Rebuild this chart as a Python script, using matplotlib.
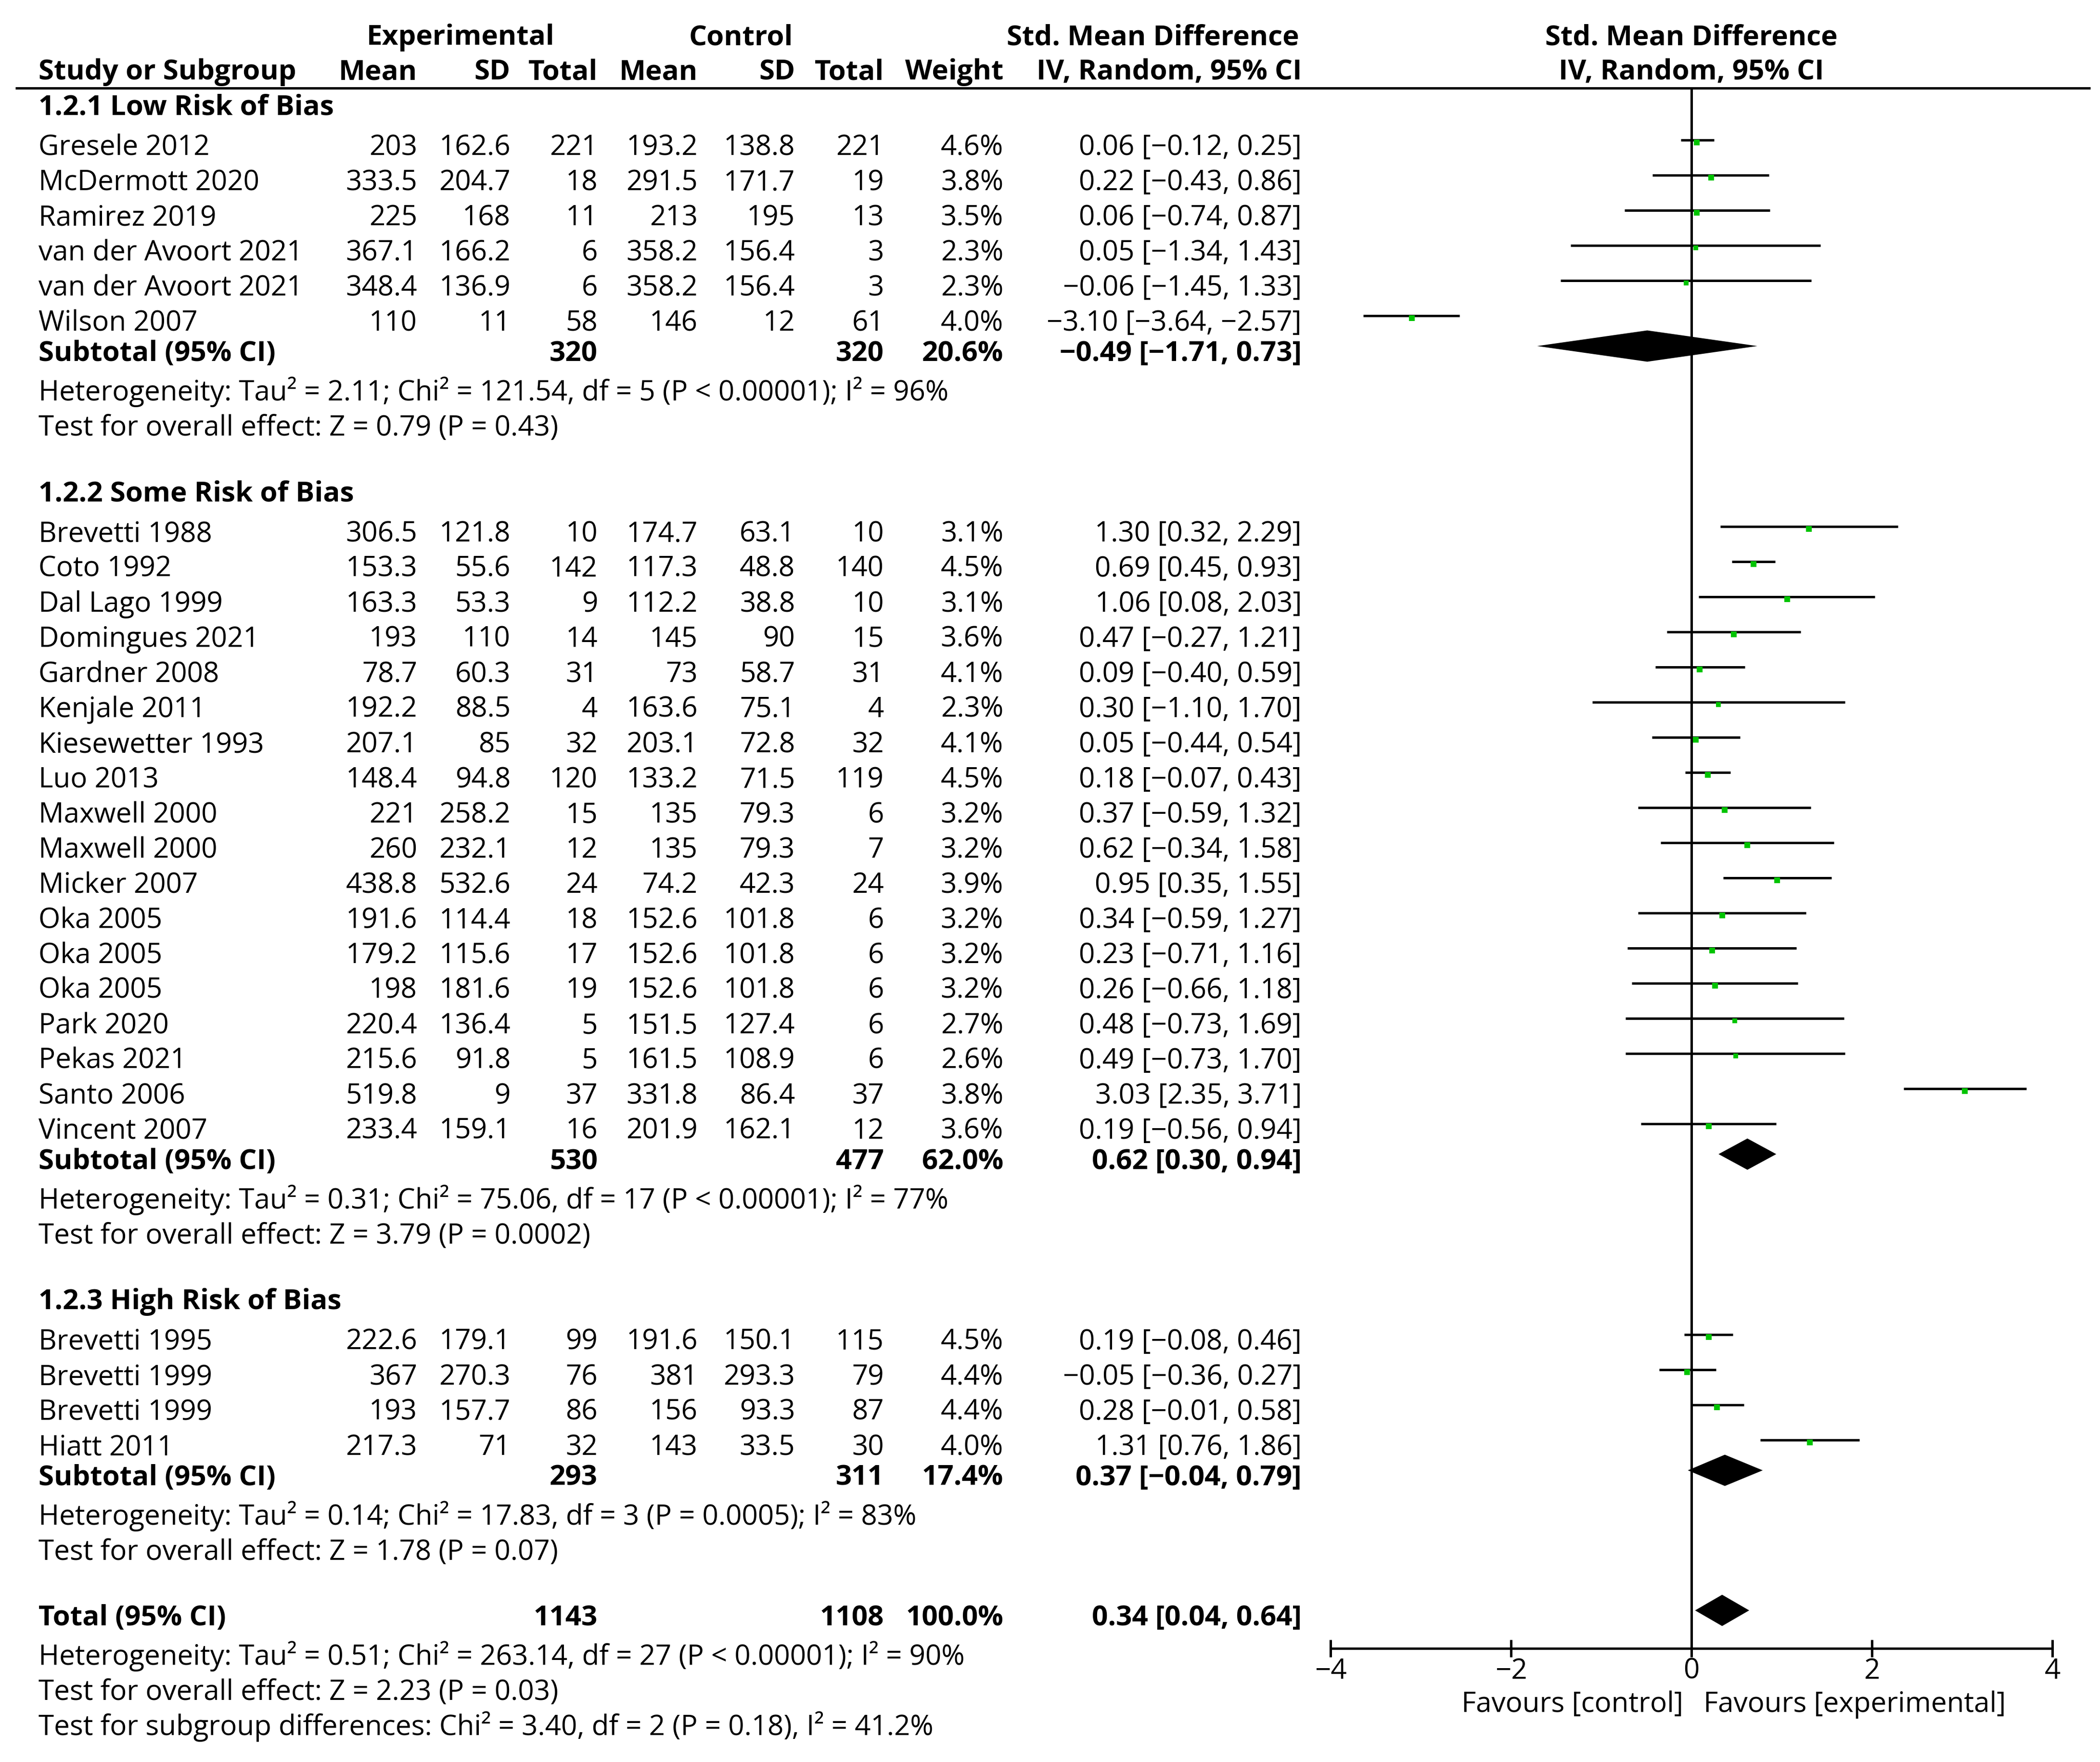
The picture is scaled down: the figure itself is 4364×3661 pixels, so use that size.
import numpy as np
import matplotlib
matplotlib.use("Agg")
import matplotlib.pyplot as plt

plt.rcParams['font.family'] = ['Open Sans', 'DejaVu Sans']
FS = 42

# data
group_titles = ["1.2.1 Low Risk of Bias", "1.2.2 Some Risk of Bias", "1.2.3 High Risk of Bias"]

study = [
    ["Gresele 2012", "McDermott 2020", "Ramirez 2019", "van der Avoort 2021", "van der Avoort 2021", "Wilson 2007"],
    ["Brevetti 1988", "Coto 1992", "Dal Lago 1999", "Domingues 2021", "Gardner 2008", "Kenjale 2011",
     "Kiesewetter 1993", "Luo 2013", "Maxwell 2000", "Maxwell 2000", "Micker 2007", "Oka 2005",
     "Oka 2005", "Oka 2005", "Park 2020", "Pekas 2021", "Santo 2006", "Vincent 2007"],
    ["Brevetti 1995", "Brevetti 1999", "Brevetti 1999", "Hiatt 2011"],
]
exp_mean = [[203, 333.5, 225, 367.1, 348.4, 110],
            [306.5, 153.3, 163.3, 193, 78.7, 192.2, 207.1, 148.4, 221, 260, 438.8, 191.6, 179.2, 198, 220.4, 215.6, 519.8, 233.4],
            [222.6, 367, 193, 217.3]]
exp_sd = [[162.6, 204.7, 168, 166.2, 136.9, 11],
          [121.8, 55.6, 53.3, 110, 60.3, 88.5, 85, 94.8, 258.2, 232.1, 532.6, 114.4, 115.6, 181.6, 136.4, 91.8, 9, 159.1],
          [179.1, 270.3, 157.7, 71]]
exp_n = [[221, 18, 11, 6, 6, 58],
         [10, 142, 9, 14, 31, 4, 32, 120, 15, 12, 24, 18, 17, 19, 5, 5, 37, 16],
         [99, 76, 86, 32]]
ctl_mean = [[193.2, 291.5, 213, 358.2, 358.2, 146],
            [174.7, 117.3, 112.2, 145, 73, 163.6, 203.1, 133.2, 135, 135, 74.2, 152.6, 152.6, 152.6, 151.5, 161.5, 331.8, 201.9],
            [191.6, 381, 156, 143]]
ctl_sd = [[138.8, 171.7, 195, 156.4, 156.4, 12],
          [63.1, 48.8, 38.8, 90, 58.7, 75.1, 72.8, 71.5, 79.3, 79.3, 42.3, 101.8, 101.8, 101.8, 127.4, 108.9, 86.4, 162.1],
          [150.1, 293.3, 93.3, 33.5]]
ctl_n = [[221, 19, 13, 3, 3, 61],
         [10, 140, 10, 15, 31, 4, 32, 119, 6, 7, 24, 6, 6, 6, 6, 6, 37, 12],
         [115, 79, 87, 30]]
weight = [[4.6, 3.8, 3.5, 2.3, 2.3, 4.0],
          [3.1, 4.5, 3.1, 3.6, 4.1, 2.3, 4.1, 4.5, 3.2, 3.2, 3.9, 3.2, 3.2, 3.2, 2.7, 2.6, 3.8, 3.6],
          [4.5, 4.4, 4.4, 4.0]]
smd = [[0.06, 0.22, 0.06, 0.05, -0.06, -3.10],
       [1.30, 0.69, 1.06, 0.47, 0.09, 0.30, 0.05, 0.18, 0.37, 0.62, 0.95, 0.34, 0.23, 0.26, 0.48, 0.49, 3.03, 0.19],
       [0.19, -0.05, 0.28, 1.31]]
ci_lo = [[-0.12, -0.43, -0.74, -1.34, -1.45, -3.64],
         [0.32, 0.45, 0.08, -0.27, -0.40, -1.10, -0.44, -0.07, -0.59, -0.34, 0.35, -0.59, -0.71, -0.66, -0.73, -0.73, 2.35, -0.56],
         [-0.08, -0.36, -0.01, 0.76]]
ci_hi = [[0.25, 0.86, 0.87, 1.43, 1.33, -2.57],
         [2.29, 0.93, 2.03, 1.21, 0.59, 1.70, 0.54, 0.43, 1.32, 1.58, 1.55, 1.27, 1.16, 1.18, 1.69, 1.70, 3.71, 0.94],
         [0.46, 0.27, 0.58, 1.86]]

sub_exp_n = [320, 530, 293]
sub_ctl_n = [320, 477, 311]
sub_weight = [20.6, 62.0, 17.4]
sub_smd = [-0.49, 0.62, 0.37]
sub_lo = [-1.71, 0.30, -0.04]
sub_hi = [0.73, 0.94, 0.79]
sub_het = ["Heterogeneity: Tau² = 2.11; Chi² = 121.54, df = 5 (P < 0.00001); I² = 96%",
           "Heterogeneity: Tau² = 0.31; Chi² = 75.06, df = 17 (P < 0.00001); I² = 77%",
           "Heterogeneity: Tau² = 0.14; Chi² = 17.83, df = 3 (P = 0.0005); I² = 83%"]
sub_test = ["Test for overall effect: Z = 0.79 (P = 0.43)",
            "Test for overall effect: Z = 3.79 (P = 0.0002)",
            "Test for overall effect: Z = 1.78 (P = 0.07)"]

tot_exp_n, tot_ctl_n, tot_weight = 1143, 1108, 100.0
tot_smd, tot_lo, tot_hi = 0.34, 0.04, 0.64
tot_notes = ["Heterogeneity: Tau² = 0.51; Chi² = 263.14, df = 27 (P < 0.00001); I² = 90%",
             "Test for overall effect: Z = 2.23 (P = 0.03)",
             "Test for subgroup differences: Chi² = 3.40, df = 2 (P = 0.18), I² = 41.2%"]

xticks = [-4, -2, 0, 2, 4]

W, H = 4364, 3661
fig = plt.figure(figsize=(W / 100, H / 100), dpi=100)
ax = fig.add_axes([0, 0, 1, 1])
ax.set_xlim(0, W)
ax.set_ylim(H, 0)
ax.axis('off')

XL, XR = 2765, 4265   # forest axis: -4 .. 4
fax = fig.add_axes([XL / W, 0, (XR - XL) / W, 1])
fax.set_xlim(-4, 4)
fax.set_ylim(H, 0)
fax.patch.set_alpha(0)

# column right edges
col_name = 80
cols = [867, 1061, 1242, 1450, 1652, 1837, 2085, 2705]


def fmt(v):
    return f"{v:g}"


def ci_txt(e, l, h):
    return f"{e:.2f} [{l:.2f}, {h:.2f}]".replace("-", "\u2212")


def txt(x, y, s, ha='left', bold=False):
    ax.text(x, y, s, ha=ha, va='baseline', fontsize=FS,
            fontweight='bold' if bold else 'normal', color='black')


def diamond(y, e, l, h):
    hh = 32.5
    fax.fill([l, e, h, e], [y, y - hh, y, y + hh], color='black', lw=0)


# header
txt(957, 93, "Experimental", 'center', True)
txt(1540, 93, "Control", 'center', True)
txt(2396, 93, "Std. Mean Difference", 'center', True)
txt(3515, 93, "Std. Mean Difference", 'center', True)
txt(col_name, 165, "Study or Subgroup", bold=True)
for c, s in zip(cols, ["Mean", "SD", "Total", "Mean", "SD", "Total", "Weight", "IV, Random, 95% CI"]):
    txt(c, 165, s, 'right', True)
txt(3515, 165, "IV, Random, 95% CI", 'center', True)
ax.plot([32, 4344], [183, 183], color='black', lw=3.6, solid_capstyle='butt')

ROW, OFF = 73, 31
y = 238
for g in range(len(group_titles)):
    txt(col_name, y, group_titles[g], bold=True)
    y += 84
    for i in range(len(study[g])):
        vals = [fmt(exp_mean[g][i]), fmt(exp_sd[g][i]), str(exp_n[g][i]),
                fmt(ctl_mean[g][i]), fmt(ctl_sd[g][i]), str(ctl_n[g][i]),
                f"{weight[g][i]:.1f}%", ci_txt(smd[g][i], ci_lo[g][i], ci_hi[g][i])]
        txt(col_name, y, study[g][i])
        for c, s in zip(cols, vals):
            txt(c, y, s, 'right')
        yc = y - OFF
        fax.plot([ci_lo[g][i], ci_hi[g][i]], [yc, yc], color='black', lw=3.6, solid_capstyle='butt')
        side = (8 + weight[g][i]) * 0.72
        fax.plot(smd[g][i], yc + 5, 's', color='#00c400', ms=side, mew=0)
        y += ROW
    y += 63 - ROW
    txt(col_name, y, "Subtotal (95% CI)", bold=True)
    txt(cols[2], y, str(sub_exp_n[g]), 'right', True)
    txt(cols[5], y, str(sub_ctl_n[g]), 'right', True)
    txt(cols[6], y, f"{sub_weight[g]:.1f}%", 'right', True)
    txt(cols[7], y, ci_txt(sub_smd[g], sub_lo[g], sub_hi[g]), 'right', True)
    diamond(y - OFF, sub_smd[g], sub_lo[g], sub_hi[g])
    y += 82
    txt(col_name, y, sub_het[g])
    y += ROW
    txt(col_name, y, sub_test[g])
    y += 136

txt(col_name, y, "Total (95% CI)", bold=True)
txt(cols[2], y, str(tot_exp_n), 'right', True)
txt(cols[5], y, str(tot_ctl_n), 'right', True)
txt(cols[6], y, f"{tot_weight:.1f}%", 'right', True)
txt(cols[7], y, ci_txt(tot_smd, tot_lo, tot_hi), 'right', True)
diamond(y - OFF, tot_smd, tot_lo, tot_hi)
y += 82
for s in tot_notes:
    txt(col_name, y, s)
    y += ROW

# forest axis
AXY = 3425
fax.plot([0, 0], [183, AXY], color='black', lw=3.6, solid_capstyle='butt')
for side in ['top', 'left', 'right']:
    fax.spines[side].set_visible(False)
fax.spines['bottom'].set_position(('data', AXY))
fax.spines['bottom'].set_bounds(-4, 4)
fax.spines['bottom'].set_linewidth(3.6)
fax.set_yticks([])
fax.set_xticks(xticks)
fax.set_xticklabels([str(t).replace("-", "\u2212") for t in xticks])
fax.tick_params(axis='x', direction='inout', length=26, width=3.6, labelsize=FS, pad=0)

txt(3498, 3557, "Favours [control]", 'right')
txt(3540, 3557, "Favours [experimental]", 'left')

fig.savefig("out.png", dpi=100)
